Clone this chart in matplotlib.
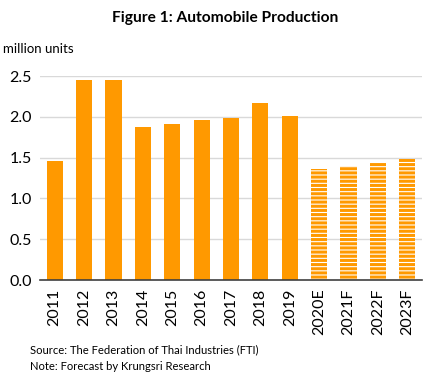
import matplotlib
matplotlib.use("Agg")
import matplotlib.pyplot as plt

categories = ["2011", "2012", "2013", "2014", "2015", "2016", "2017", "2018", "2019",
              "2020E", "2021F", "2022F", "2023F"]
values = [1.46, 2.45, 2.45, 1.88, 1.91, 1.96, 1.99, 2.17, 2.01, 1.36, 1.40, 1.45, 1.48]
forecast = [False] * 9 + [True] * 4
yticks = [0.0, 0.5, 1.0, 1.5, 2.0, 2.5]

orange = "#FF9900"
plt.rcParams['font.family'] = ['Lato', 'DejaVu Sans']
plt.rcParams['hatch.linewidth'] = 2.2

fig = plt.figure(figsize=(4.46, 3.81), dpi=100)
ax = fig.add_axes([40/446, 101/381, 382/446, 204/381])

x = list(range(len(categories)))
for xi, v, f in zip(x, values, forecast):
    if f:
        ax.bar(xi, v, width=0.55, color="white", edgecolor=orange, hatch="----", linewidth=0, zorder=2)
    else:
        ax.bar(xi, v, width=0.55, color=orange, linewidth=0, zorder=2)

ax.set_xlim(-0.5, 12.5)
ax.set_ylim(0, 2.5)
ax.set_yticks(yticks)
ax.set_yticklabels([f"{t:.1f}" for t in yticks], fontsize=11.5)
ax.set_xticks(x)
ax.set_xticklabels(categories, rotation=90, fontsize=11.5)
ax.tick_params(length=0, pad=6)
ax.grid(axis='y', color="#D9D9D9", linewidth=1, zorder=0)
for s in ['top', 'right', 'left']:
    ax.spines[s].set_visible(False)
ax.spines['bottom'].set_color("#404040")
ax.spines['bottom'].set_linewidth(1.2)
ax.spines['bottom'].set_zorder(3)

fig.text(225/446, 1 - 18/381, "Figure 1: Automobile Production", ha='center', va='center',
         fontsize=11.2, fontweight='bold')
fig.text(3/446, 1 - 49/381, "million units", ha='left', va='center', fontsize=9.5)
fig.text(30/446, 1 - 350/381, "Source: The Federation of Thai Industries (FTI)", ha='left', va='center', fontsize=8.1)
fig.text(30/446, 1 - 367/381, "Note: Forecast by Krungsri Research", ha='left', va='center', fontsize=8.1)

fig.savefig("out.png", dpi=100)
